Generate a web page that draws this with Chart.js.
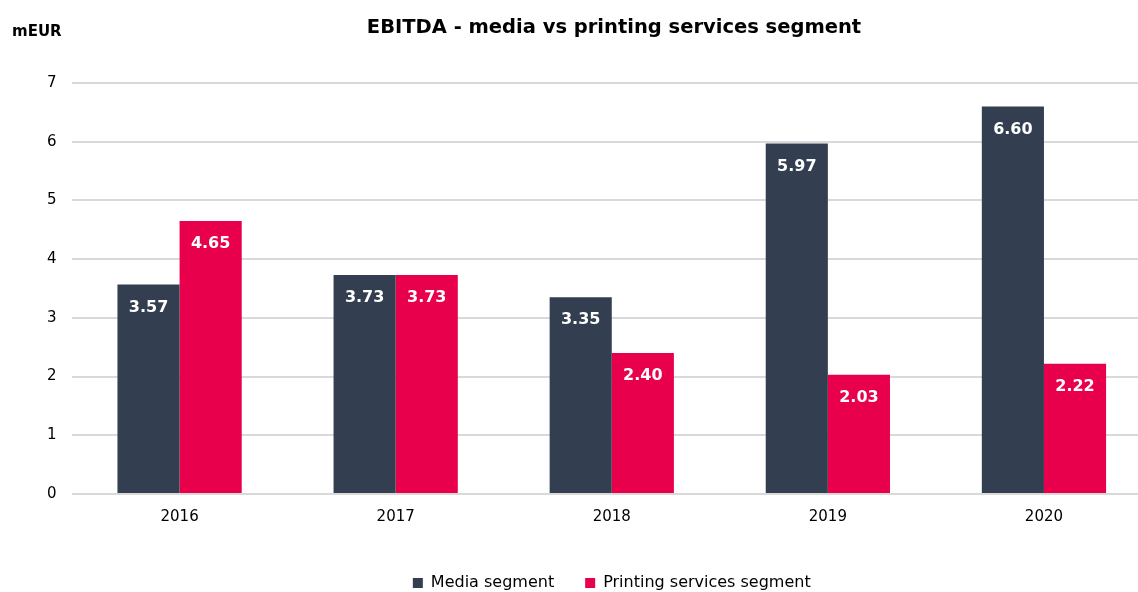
<!DOCTYPE html>
<html>
<head>
<meta charset="utf-8">
<script src="https://cdn.jsdelivr.net/npm/chart.js@4.4.0/dist/chart.umd.min.js"></script>
<style>
  body { margin: 0; background: #fff; overflow: hidden; }
  #wrap { width: 1152px; height: 592px; }
</style>
</head>
<body>
<div id="wrap"><canvas id="grafica"></canvas></div>
<script>
const years = ["2016", "2017", "2018", "2019", "2020"]
const media = [3.57, 3.73, 3.35, 5.97, 6.60]
const printing = [4.65, 3.73, 2.40, 2.03, 2.22]
const yTicks = [0, 1, 2, 3, 4, 5, 6, 7]

const fontName = "'DejaVu Sans', sans-serif"
const ctx = document.getElementById('grafica')

// white value labels inside the top of each bar
const barLabels = {
    id: 'barLabels',
    afterDatasetsDraw(chart) {
        const c = chart.ctx
        c.save()
        c.fillStyle = '#ffffff'
        c.font = "bold 16px " + fontName
        c.textAlign = 'center'
        c.textBaseline = 'middle'
        chart.data.datasets.forEach((ds, i) => {
            chart.getDatasetMeta(i).data.forEach((bar, j) => {
                c.fillText(ds.data[j].toFixed(2), bar.x, bar.y + 23)
            })
        })
        c.restore()
    }
}

// title and unit label on top (title sits a bit right of the page centre)
const topTexts = {
    id: 'topTexts',
    afterDraw(chart) {
        const c = chart.ctx
        c.save()
        c.fillStyle = '#000000'
        c.textBaseline = 'middle'
        c.textAlign = 'center'
        c.font = "bold 19.5px " + fontName
        c.fillText('EBITDA - media vs printing services segment', 614, 28)
        c.textAlign = 'left'
        c.font = "bold 15px " + fontName
        c.fillText('mEUR', 12, 32)
        c.restore()
    }
}

let grafico = new Chart(ctx, {
    type: 'bar',
    data: {
        labels: years,
        datasets: [{
            label: 'Media segment',
            data: media,
            backgroundColor: '#333f50'
        }, {
            label: 'Printing services segment',
            data: printing,
            backgroundColor: '#e8004c'
        }]
    },
    options: {
        responsive: true,
        maintainAspectRatio: false,
        animation: false,
        layout: { padding: { left: 32, right: 0, top: 83, bottom: -9 } },
        datasets: {
            bar: { barPercentage: 1, categoryPercentage: 0.575 }
        },
        scales: {
            x: {
                afterFit: (axis) => { axis.height += 12 },
                grid: { display: false },
                border: { display: false },
                ticks: { color: '#000', font: { family: fontName, size: 15 }, padding: 6 }
            },
            y: {
                min: 0,
                max: 7,
                afterBuildTicks: (axis) => { axis.ticks = yTicks.map(v => ({ value: v })) },
                grid: { color: '#d9d9d9', lineWidth: 2, drawTicks: false },
                border: { display: false },
                ticks: { color: '#000', font: { family: fontName, size: 15 }, padding: 15 }
            }
        },
        plugins: {
            title: { display: false },
            legend: {
                position: 'bottom',
                fullSize: false,
                labels: {
                    color: '#000',
                    font: { family: fontName, size: 16 },
                    boxWidth: 10,
                    boxHeight: 10,
                    padding: 31
                }
            },
            tooltip: { enabled: false }
        }
    },
    plugins: [barLabels, topTexts]
})
</script>
</body>
</html>
